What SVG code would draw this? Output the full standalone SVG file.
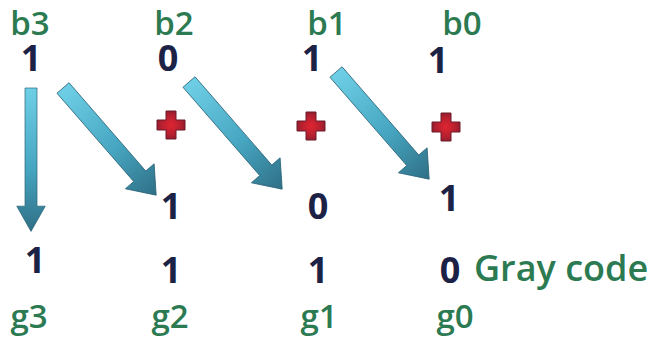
<svg xmlns="http://www.w3.org/2000/svg" width="659" height="344" viewBox="0 0 659 344">
<style>
.lbl{font-family:"Open Sans","Liberation Sans",sans-serif;font-size:33px;font-weight:600;fill:#2b7a52;text-anchor:middle}
.dig{font-family:"Open Sans","Liberation Sans",sans-serif;font-size:36px;font-weight:700;fill:#1b2245;text-anchor:middle}
.gc{font-family:"Open Sans","Liberation Sans",sans-serif;font-size:36px;font-weight:600;fill:#2b7a52}
.arr{fill:url(#ag);stroke:#2a6478;stroke-width:0.8}
.plus{fill:url(#pg);stroke:#6e1a2a;stroke-width:1}
</style>
<defs>
<linearGradient id="ag" x1="0" y1="0" x2="1" y2="0">
<stop offset="0" stop-color="#6fcfe6"/>
<stop offset="0.55" stop-color="#47a7c2"/>
<stop offset="1" stop-color="#2f6f86"/>
</linearGradient>
<radialGradient id="pg" cx="0.5" cy="0.5" r="0.6">
<stop offset="0" stop-color="#e02430"/>
<stop offset="0.6" stop-color="#b32030"/>
<stop offset="1" stop-color="#7d1c2c"/>
</radialGradient>
<path id="arrowD" d="M0,-8 L117,-8 L117,-19 L142,0 L117,19 L117,8 L0,8 Z"/>
<path id="cross" d="M-5,-14 L5,-14 L5,-5 L14,-5 L14,5 L5,5 L5,14 L-5,14 L-5,5 L-14,5 L-14,-5 L-5,-5 Z"/>
</defs>
<rect width="659" height="344" fill="#ffffff"/>
<g id="connectors">
<use href="#arrowD" class="arr" transform="translate(31,88) rotate(90) scale(1.01,0.75)"/>
<use href="#arrowD" class="arr" transform="translate(63,88) rotate(49)"/>
<use href="#arrowD" class="arr" transform="translate(189,82) rotate(49)"/>
<use href="#arrowD" class="arr" transform="translate(336,72) rotate(49)"/>
</g>
<g id="plus-signs">
<use href="#cross" class="plus" transform="translate(171,125)"/>
<use href="#cross" class="plus" transform="translate(311,126)"/>
<use href="#cross" class="plus" transform="translate(446,127)"/>
</g>
<g id="bit-labels">
<text class="lbl" x="30" y="35">b3</text>
<text class="lbl" x="174" y="35">b2</text>
<text class="lbl" x="327" y="35">b1</text>
<text class="lbl" x="462" y="35">b0</text>
</g>
<g id="binary">
<text class="dig" x="31" y="71">1</text>
<text class="dig" x="168" y="71">0</text>
<text class="dig" x="312" y="71">1</text>
<text class="dig" x="438" y="73">1</text>
</g>
<g id="shifted">
<text class="dig" x="171" y="219">1</text>
<text class="dig" x="318" y="219">0</text>
<text class="dig" x="449" y="211">1</text>
</g>
<g id="gray">
<text class="dig" x="35" y="273">1</text>
<text class="dig" x="171" y="283">1</text>
<text class="dig" x="318" y="283">1</text>
<text class="dig" x="450" y="283">0</text>
<text class="gc" x="474" y="281">Gray code</text>
</g>
<g id="gray-labels">
<text class="lbl" x="29" y="328">g3</text>
<text class="lbl" x="170" y="328">g2</text>
<text class="lbl" x="319" y="328">g1</text>
<text class="lbl" x="455" y="328">g0</text>
</g>
</svg>
